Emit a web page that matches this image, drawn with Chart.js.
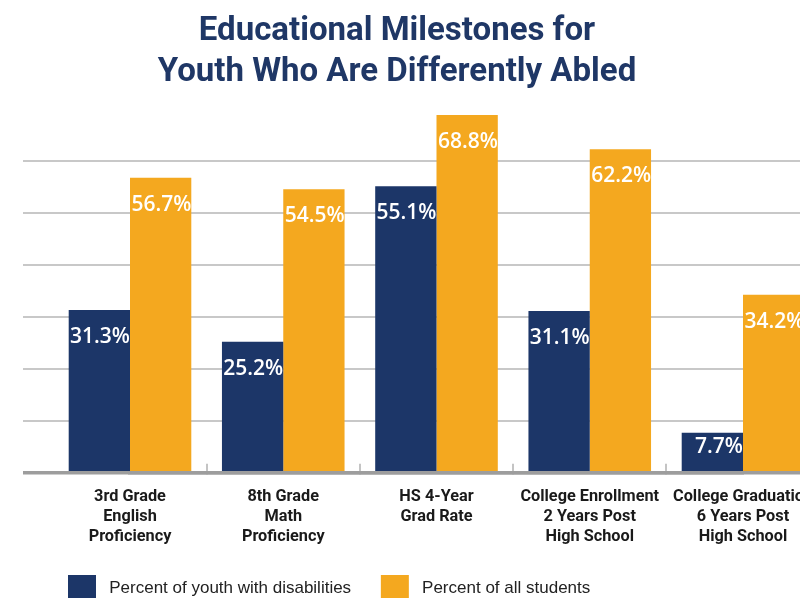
<!DOCTYPE html>
<html>
<head>
<meta charset="utf-8">
<script src="https://cdn.jsdelivr.net/npm/chart.js@4.4.0/dist/chart.umd.min.js"></script>
<style>
body{margin:0;background:#fff;}
#wrap{width:800px;height:598px;overflow:hidden;}
</style>
</head>
<body>
<div id="wrap"><canvas id="chart" width="800" height="620"></canvas></div>
<script>
var titleLines = ['Educational Milestones for', 'Youth Who Are Differently Abled'];
var categories = [
    ['3rd Grade', 'English', 'Proficiency'],
    ['8th Grade', 'Math', 'Proficiency'],
    ['HS 4-Year', 'Grad Rate'],
    ['College Enrollment', '2 Years Post', 'High School'],
    ['College Graduation', '6 Years Post', 'High School']
];
var seriesNames = ['Percent of youth with disabilities', 'Percent of all students'];
var disabilities = [31.3, 25.2, 55.1, 31.1, 7.7];
var allStudents = [56.7, 54.5, 68.8, 62.2, 34.2];

var navy = '#1c3668';
var orange = '#f4a81f';

function gridColor(c){
    if(c.tick && c.tick.value === 0) return '#9d9d9d';
    if(c.tick && c.tick.value === 70) return 'rgba(0,0,0,0)';
    return '#c8c8c8';
}
function gridWidth(c){
    return (c.tick && c.tick.value === 0) ? 3.5 : 2;
}

// white value labels at the top of each bar
var barLabels = {
    id: 'barLabels',
    afterDatasetsDraw: function(chart){
        var ctx = chart.ctx;
        ctx.save();
        ctx.font = '600 21px "Open Sans"';
        ctx.fillStyle = '#ffffff';
        ctx.textAlign = 'right';
        ctx.textBaseline = 'middle';
        chart.data.datasets.forEach(function(ds, i){
            chart.getDatasetMeta(i).data.forEach(function(bar, j){
                var y = Math.min(bar.y + 27, bar.base - 24);
                ctx.fillText(ds.data[j].toFixed(1) + '%', bar.x + bar.width / 2, y);
            });
        });
        ctx.restore();
    }
};

var ctx = document.getElementById('chart').getContext('2d');
var myChart = new Chart(ctx, {
    type: 'bar',
    data: {
        labels: categories,
        datasets: [{
            label: seriesNames[0],
            data: disabilities,
            backgroundColor: navy,
            categoryPercentage: 0.8,
            barPercentage: 1,
            clip: false
        }, {
            label: seriesNames[1],
            data: allStudents,
            backgroundColor: orange,
            categoryPercentage: 0.8,
            barPercentage: 1,
            clip: false
        }]
    },
    options: {
        responsive: false,
        animation: false,
        layout: {
            padding: {left: 43, right: 49, top: 0, bottom: 9},
            autoPadding: false
        },
        scales: {
            x: {
                offset: false,
                z: 1,
                border: {display: true, color: '#9d9d9d', width: 3.5},
                grid: {drawOnChartArea: false, offset: true, color: '#c4c4c4', lineWidth: 2, tickLength: -9},
                ticks: {
                    autoSkip: false, maxRotation: 0, minRotation: 0, padding: 23.6,
                    color: '#1a1a1a',
                    font: {family: 'Roboto', weight: 'bold', size: 16.3, lineHeight: '20px'}
                },
                afterFit: function(s){ s.height = 77.3; s.paddingLeft = 0; s.paddingRight = 0; }
            },
            y: {
                min: 0, max: 70,
                ticks: {display: false, stepSize: 10},
                border: {display: false},
                grid: {color: gridColor, lineWidth: gridWidth, tickLength: 107},
                afterFit: function(s){ s.width = 87; }
            },
            y2: {
                position: 'right',
                min: 0, max: 70,
                ticks: {display: false, stepSize: 10},
                border: {display: false},
                grid: {drawOnChartArea: false, color: gridColor, lineWidth: gridWidth, tickLength: 80},
                afterFit: function(s){ s.width = 8; }
            }
        },
        plugins: {
            title: {
                display: true,
                text: titleLines,
                color: '#1f3766',
                font: {family: 'Roboto', weight: 'bold', size: 33, lineHeight: '41px'},
                padding: {top: 11.7, bottom: 15}
            },
            legend: {
                position: 'bottom',
                align: 'start',
                labels: {
                    boxWidth: 28, boxHeight: 26, padding: 25,
                    color: '#222222',
                    font: {family: '"Liberation Sans"', size: 17},
                    generateLabels: function(chart){
                        var items = Chart.defaults.plugins.legend.labels.generateLabels(chart);
                        items.forEach(function(it, i){
                            it.text = ' ' + it.text + (i === 0 ? ' ' : '');
                        });
                        return items;
                    }
                }
            },
            tooltip: {enabled: false}
        }
    },
    plugins: [barLabels]
});
</script>
</body>
</html>
